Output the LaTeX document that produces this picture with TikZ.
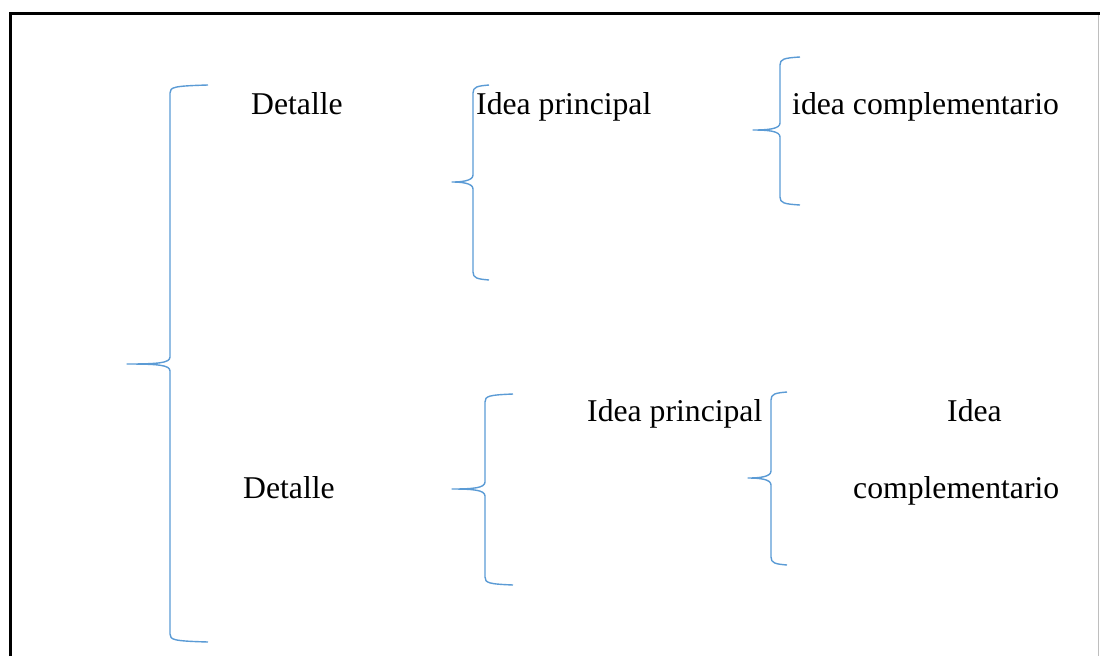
\documentclass[tikz,border=0pt]{standalone}
\usepackage{fontspec}
\setmainfont{Liberation Serif}
\definecolor{braceblue}{RGB}{91,155,213}
\definecolor{edgegrey}{RGB}{190,190,190}
% Curly brace opening to the right:
% #1 tip x, #2 tip y, #3 spine x, #4 top y, #5 bottom y, #6 arm end x
\newcommand{\wordbrace}[6]{%
  \draw[bracestyle]
    (#6,#4-3) .. controls (#3+4,#4-2) and (#3,#4-1) .. (#3,#4+5)
    -- (#3,#2-7) .. controls (#3,#2-1) and (#3-12,#2) .. (#1,#2)
    .. controls (#3-12,#2) and (#3,#2+1) .. (#3,#2+7)
    -- (#3,#5-5) .. controls (#3,#5+1) and (#3+4,#5+2) .. (#6,#5+3);}
\begin{document}
\begin{tikzpicture}[x=1pt,y=-1pt,
  bracestyle/.style={draw=braceblue,line width=1.4pt,line join=round},
  label/.style={inner sep=0pt,anchor=base west,font=\fontsize{31.7}{38}\selectfont}]
\useasboundingbox (0,0) rectangle (1100,656);
% frame
\draw[edgegrey,line width=1.5pt] (1098.5,13) -- (1098.5,656);
\draw[black,line width=3pt] (10,656) -- (10,13) -- (1100,13);
% texts
\node[label] (d1)  at (251,114) {Detalle};
\node[label] (ip1) at (476,114) {Idea principal};
\node[label] (ic1) at (792,114) {idea complementario};
\node[label] (ip2) at (587,421) {Idea principal};
\node[label] (ic2a) at (947,421) {Idea};
\node[label] (d2)  at (243,498) {Detalle};
\node[label] (ic2b) at (853,498) {complementario};
% braces
\wordbrace{127}{364}{170}{88}{639}{208}
\wordbrace{452}{182}{473}{88}{277}{489}
\wordbrace{753}{130}{780}{60}{202}{800}
\wordbrace{452}{489}{485}{397}{582}{513}
\wordbrace{748}{478}{771}{395}{562}{787}
\end{tikzpicture}
\end{document}
